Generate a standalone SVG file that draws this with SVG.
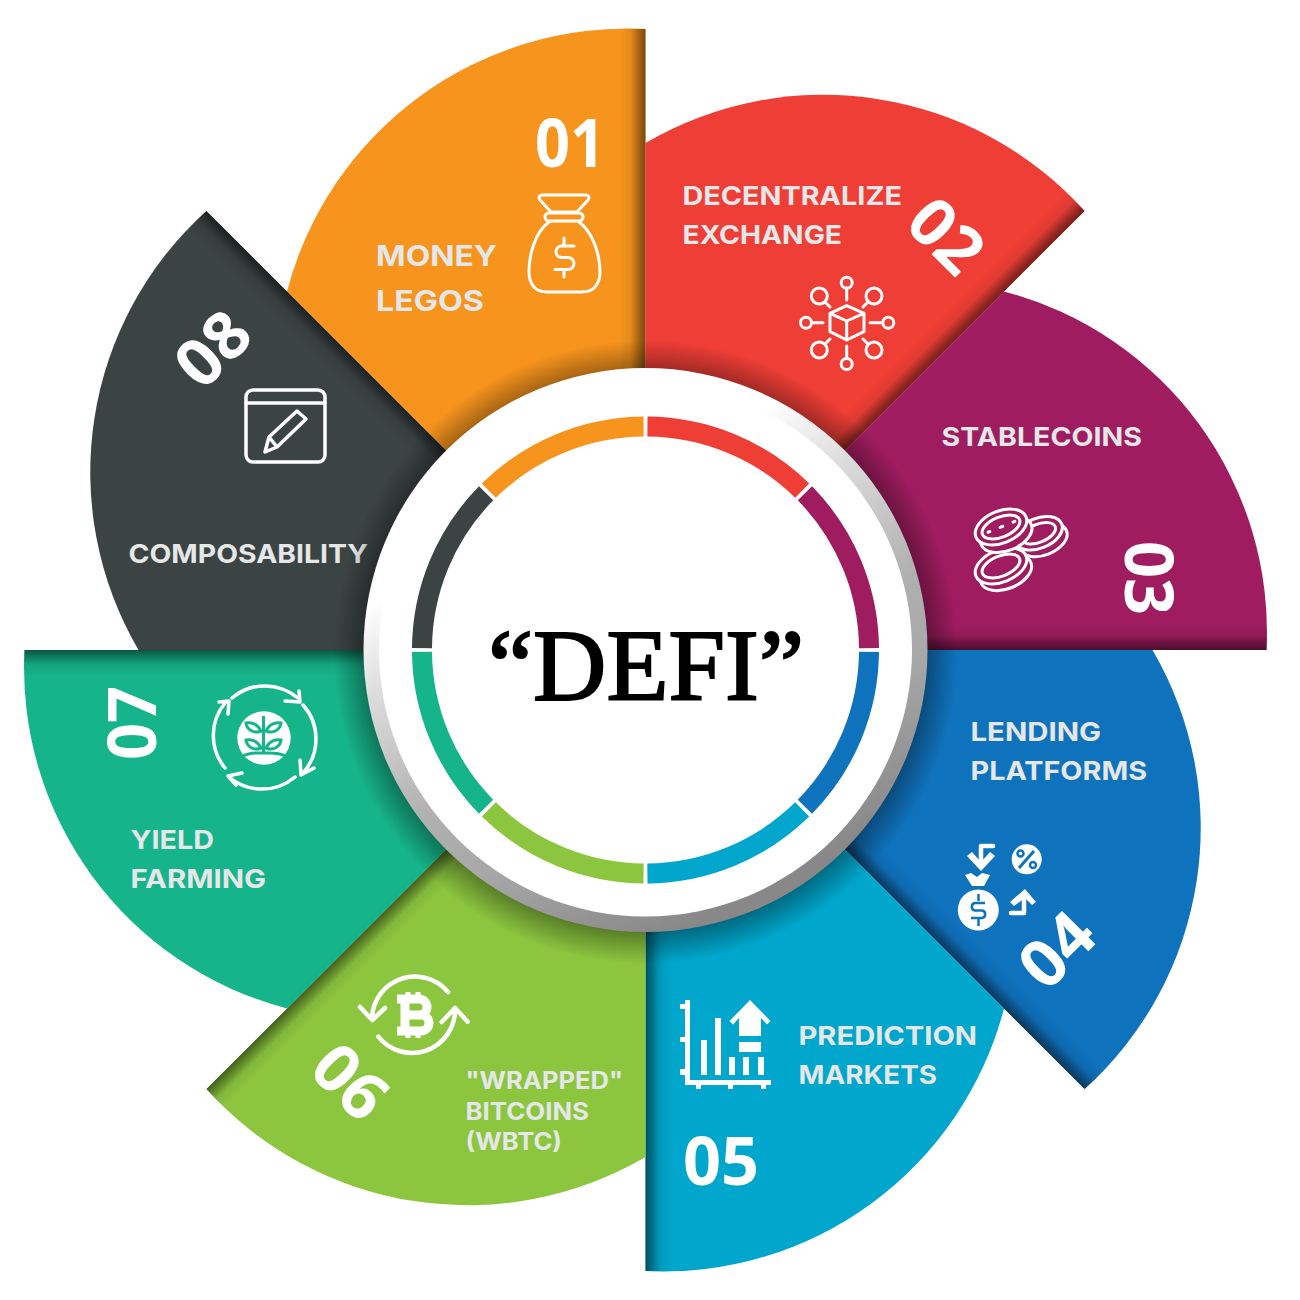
<svg xmlns="http://www.w3.org/2000/svg" width="1300" height="1300" viewBox="0 0 1300 1300">
<style>
.lbl{font-family:Inter,"Liberation Sans",sans-serif;font-weight:700;fill:#e6e7e8;font-size:26px}
.num{font-family:"Open Sans","Liberation Sans",sans-serif;font-weight:700;fill:#fff;font-size:66px;text-anchor:middle}
.ic{fill:none;stroke:#fff;stroke-width:3;stroke-linecap:round;stroke-linejoin:round}
.w{fill:#fff;stroke:none}
.seg{fill:none;stroke-width:20}
</style>
<defs>
<path id="blade" d="M645.5 650L645.5 29A352 352 0 0 0 287 291.5Z"/>
<clipPath id="bladeClip"><use href="#blade"/></clipPath>
<linearGradient id="edge" gradientUnits="userSpaceOnUse" x1="619" y1="0" x2="645.5" y2="0">
<stop offset="0" stop-color="#000" stop-opacity="0"/><stop offset=".45" stop-color="#000" stop-opacity=".08"/><stop offset="1" stop-color="#000" stop-opacity=".52"/>
</linearGradient>
<g id="shade" clip-path="url(#bladeClip)"><rect x="619" y="20" width="27" height="640" fill="url(#edge)"/></g>
<path id="seg" d="M647.45 426.5A223.5 223.5 0 0 1 802.2 490.6"/>
<radialGradient id="halo" gradientUnits="userSpaceOnUse" cx="645.5" cy="652" r="312">
<stop offset=".88" stop-color="#000" stop-opacity=".42"/><stop offset="1" stop-color="#000" stop-opacity="0"/>
</radialGradient>
<linearGradient id="rim" gradientUnits="userSpaceOnUse" x1="500" y1="420" x2="740" y2="900">
<stop offset="0" stop-color="#fff"/><stop offset=".2" stop-color="#fff"/><stop offset=".35" stop-color="#ddd"/><stop offset=".6" stop-color="#b0b0b0"/><stop offset=".74" stop-color="#a8a8a8"/><stop offset="1" stop-color="#888"/>
</linearGradient>
</defs>
<rect width="1300" height="1300" fill="#fff"/>

<g id="node-01"><use href="#blade" fill="#f7941d"/><use href="#shade"/>
<text class="num" x="570" y="167" textLength="70" lengthAdjust="spacingAndGlyphs">01</text>
<g class="ic"><path d="M542 195H586Q591 196 588 200L577 212H551L540 200Q537 196 542 195Z"/><rect x="545" y="213" width="38" height="8" rx="4"/><path d="M549 222C535 232 529 255 529 272C529 286 537 292 547 292H582C592 292 600 286 600 272C600 255 593 232 579 222"/><path d="M574 246H561a5.800 5.800 0 0 0 0 11.500H568a6 6 0 0 1 0 12H555M564 238v7M564 270v7"/></g>
<text class="lbl" style="font-size:29px" x="376" y="266" textLength="121" lengthAdjust="spacingAndGlyphs">MONEY</text>
<text class="lbl" style="font-size:29px" x="376" y="311" textLength="108" lengthAdjust="spacingAndGlyphs">LEGOS</text></g>

<g id="node-02"><use href="#blade" fill="#ef3e36" transform="rotate(45 645.5 650)"/><use href="#shade" transform="rotate(45 645.5 650)"/>
<text class="num" transform="translate(946 236) rotate(45)" y="23" textLength="76" lengthAdjust="spacingAndGlyphs">02</text>
<g class="ic"><circle cx="846.700" cy="282.700" r="5.500"/><path d="M846.700 288V300"/><circle cx="806" cy="322.700" r="5.500"/><path d="M811.500 322.700H823"/><circle cx="888.300" cy="322.700" r="5.500"/><path d="M870 322.700H882.800"/><circle cx="846.700" cy="364" r="5.500"/><path d="M846.700 346V358.500"/><circle cx="819.300" cy="296" r="8"/><path d="M825 302L830 307"/><circle cx="874" cy="296" r="8"/><path d="M868 302L863 307"/><circle cx="819.300" cy="350" r="8"/><path d="M825 344L830 339"/><circle cx="874" cy="350" r="8"/><path d="M868 344L863 339"/><path d="M846.700 305.700L864 313.300V331.700L846.700 340L830 331.700V313.300ZM830 313.300L846.700 321L864 313.300M846.700 321V340"/></g>
<text class="lbl" x="682.500" y="204.500" textLength="219.500" lengthAdjust="spacingAndGlyphs">DECENTRALIZE</text>
<text class="lbl" x="682.500" y="244" textLength="159.500" lengthAdjust="spacingAndGlyphs">EXCHANGE</text></g>

<g id="node-03"><use href="#blade" fill="#9e1c5f" transform="rotate(90 645.5 650)"/><use href="#shade" transform="rotate(90 645.5 650)"/>
<text class="num" transform="translate(1148 578) rotate(90)" y="23" textLength="74" lengthAdjust="spacingAndGlyphs">03</text>
<g class="ic" style="fill:#9e1c5f">
<g transform="rotate(-22 1040 537)"><ellipse cx="1042" cy="541" rx="25" ry="15"/><ellipse cx="1040" cy="533" rx="25" ry="15"/><ellipse cx="1040" cy="533" rx="18" ry="9"/></g>
<g transform="rotate(-22 1001 566)"><ellipse cx="1003" cy="574" rx="27" ry="16"/><ellipse cx="1001" cy="566" rx="27" ry="16"/><ellipse cx="1001" cy="566" rx="20" ry="10"/></g>
<g transform="rotate(-22 1001 527)"><ellipse cx="1003" cy="536" rx="27" ry="16"/><ellipse cx="1001" cy="527" rx="27" ry="16"/><ellipse cx="1001" cy="527" rx="20" ry="10"/><path d="M987 527h2M1000 527h3M1014 527h2"/></g>
</g>
<text class="lbl" x="941.500" y="446" textLength="200.500" lengthAdjust="spacingAndGlyphs">STABLECOINS</text></g>

<g id="node-04"><use href="#blade" fill="#0f72bc" transform="rotate(135 645.5 650)"/><use href="#shade" transform="rotate(135 645.5 650)"/>
<text class="num" transform="translate(1057 950) rotate(-45)" y="23" textLength="76" lengthAdjust="spacingAndGlyphs">04</text>
<g>
<path class="ic" style="stroke-width:4.500" d="M993 846H981V862"/><path class="w" d="M967 856L981 871L995 856L990 852L981 862L972 852Z"/>
<circle class="w" cx="1026.700" cy="859.300" r="15"/><path d="M1019 868L1034 851" stroke="#0f72bc" stroke-width="3"/><circle cx="1020.500" cy="853.500" r="3" fill="none" stroke="#0f72bc" stroke-width="2.500"/><circle cx="1033" cy="865" r="3" fill="none" stroke="#0f72bc" stroke-width="2.500"/>
<path class="w" d="M965 875L971 873L977 877L982 873L990 875L984 886H972Z"/>
<circle class="w" cx="978.300" cy="910" r="20.500"/><path d="M985 903H975a3.800 3.800 0 0 0 0 7.500H982a3.800 3.800 0 0 1 0 7.500H971M978.500 894v7M978.500 919v7" fill="none" stroke="#0f72bc" stroke-width="2.500"/>
<path class="ic" style="stroke-width:4.500" d="M1011 913H1024V899"/><path class="w" d="M1010 902L1025 889L1036 902L1032 905L1025 898L1014 906Z"/>
</g>
<text class="lbl" x="970.500" y="740.500" textLength="130.500" lengthAdjust="spacingAndGlyphs">LENDING</text>
<text class="lbl" x="970.500" y="780" textLength="176.500" lengthAdjust="spacingAndGlyphs">PLATFORMS</text></g>

<g id="node-05"><use href="#blade" fill="#00a6cb" transform="rotate(180 645.5 650)"/><use href="#shade" transform="rotate(180 645.5 650)"/>
<text class="num" x="721" y="1185" textLength="76" lengthAdjust="spacingAndGlyphs">05</text>
<g class="w"><path d="M685 1000H690V1080H771V1085H766V1089H761V1085H733V1089H728V1085H701V1089H696V1085H685V1075H680V1069H685V1042H680V1037H685V1009H680V1004H685Z"/><rect x="701" y="1040" width="6" height="35"/><rect x="715" y="1018" width="6" height="57"/><rect x="729" y="1057" width="6" height="18"/><rect x="743" y="1057" width="6" height="18"/><rect x="758" y="1057" width="6" height="18"/><path d="M750 1000L770.500 1021L767 1024.500L761 1018V1036H739V1018L733 1024.500L729.500 1021Z"/><rect x="739" y="1042" width="22" height="10"/></g>
<text class="lbl" x="798.500" y="1044.500" textLength="178.500" lengthAdjust="spacingAndGlyphs">PREDICTION</text>
<text class="lbl" x="798.500" y="1084" textLength="138.500" lengthAdjust="spacingAndGlyphs">MARKETS</text></g>

<g id="node-06"><use href="#blade" fill="#8cc63f" transform="rotate(225 645.5 650)"/><use href="#shade" transform="rotate(225 645.5 650)"/>
<text class="num" transform="translate(350 1082) rotate(45)" y="23" textLength="76" lengthAdjust="spacingAndGlyphs">06</text>
<g class="ic" style="stroke-width:4.500"><path d="M372 1018A43 43 0 0 1 448 992M360 1007L372.300 1020L385 1008"/><path d="M378.300 1036.700A43 43 0 0 0 455 1010M441.700 1022L455 1008L467.700 1021.700"/>
<path style="stroke-width:9;stroke-linecap:butt" d="M397 999H419a7.500 7.500 0 0 1 0 16H405M405 1015H421a8 8 0 0 1 0 16H397M405 999V1031"/><path style="stroke-width:5;stroke-linecap:butt" d="M408 992V999M418 992V999M408 1031V1038M418 1031V1038"/></g>
<text class="lbl" style="font-size:24px" x="465.500" y="1089" textLength="157.500" lengthAdjust="spacingAndGlyphs">"WRAPPED"</text>
<text class="lbl" style="font-size:24px" x="465.500" y="1119.500" textLength="123.500" lengthAdjust="spacingAndGlyphs">BITCOINS</text>
<text class="lbl" style="font-size:24px" x="465.500" y="1149.500" textLength="96.500" lengthAdjust="spacingAndGlyphs">(WBTC)</text></g>

<g id="node-07"><use href="#blade" fill="#16b48a" transform="rotate(270 645.5 650)"/><use href="#shade" transform="rotate(270 645.5 650)"/>
<text class="num" transform="translate(133 723) rotate(-90)" y="23" textLength="74" lengthAdjust="spacingAndGlyphs">07</text>
<g class="ic" style="stroke-width:3.500"><path d="M232 698A51 51 0 0 1 298 698M285 701L300 702L299 691"/><path d="M303 705A51 51 0 0 1 303 773M300 760L301 775L314 768"/><path d="M295 777A51 51 0 0 1 229 777M242 773L228 776L236 785"/><path d="M225 768A51 51 0 0 1 225 703M219 702L229 701L228 714"/></g>
<circle class="w" cx="264" cy="738" r="26.700"/>
<g fill="none" stroke="#16b48a" stroke-width="3"><path d="M263.500 716V753"/><path d="M261 731C257 723 250 722 246 723C247 730 254 734 261 731ZM266 731C270 723 277 722 281 723C280 730 273 734 266 731ZM261 748C257 740 250 739 246 740C247 747 254 751 261 748ZM266 748C270 740 277 739 281 740C280 747 273 751 266 748Z"/></g>
<path d="M243 756C250 752 257 753 264 753C271 753 278 752 285 756" fill="none" stroke="#16b48a" stroke-width="3"/>
<text class="lbl" x="130.500" y="848.500" textLength="83.500" lengthAdjust="spacingAndGlyphs">YIELD</text>
<text class="lbl" x="130.500" y="888" textLength="135.500" lengthAdjust="spacingAndGlyphs">FARMING</text></g>

<g id="node-08"><use href="#blade" fill="#3c4443" transform="rotate(315 645.5 650)"/><use href="#shade" transform="rotate(315 645.5 650)"/>
<text class="num" transform="translate(213 349) rotate(-45)" y="23" textLength="76" lengthAdjust="spacingAndGlyphs">08</text>
<g class="ic" style="stroke-width:3.500"><rect x="246" y="390" width="79" height="72" rx="7"/><path d="M246 403H325"/><path d="M265 452L269 437L297 411L306 419L277 447ZM269 437L277 447"/></g>
<text class="lbl" x="128.500" y="563" textLength="239.500" lengthAdjust="spacingAndGlyphs">COMPOSABILITY</text></g>

<g id="hub">
<circle cx="645.500" cy="652" r="312" fill="url(#halo)"/>
<circle cx="645.500" cy="650" r="282" fill="url(#rim)"/>
<circle cx="645.500" cy="650" r="266.500" fill="#fff"/>
<g class="seg">
<use href="#seg" stroke="#ef3e36"/><use href="#seg" stroke="#9e1c5f" transform="rotate(45 645.5 650)"/><use href="#seg" stroke="#0f72bc" transform="rotate(90 645.5 650)"/><use href="#seg" stroke="#00a6cb" transform="rotate(135 645.5 650)"/><use href="#seg" stroke="#8cc63f" transform="rotate(180 645.5 650)"/><use href="#seg" stroke="#16b48a" transform="rotate(225 645.5 650)"/><use href="#seg" stroke="#3c4443" transform="rotate(270 645.5 650)"/><use href="#seg" stroke="#f7941d" transform="rotate(315 645.5 650)"/>
</g>
<text x="488" y="700" font-family="'Liberation Serif',serif" font-size="101" fill="#000" stroke="#000" stroke-width="2" textLength="316" lengthAdjust="spacingAndGlyphs">“DEFI”</text>
</g>
</svg>
